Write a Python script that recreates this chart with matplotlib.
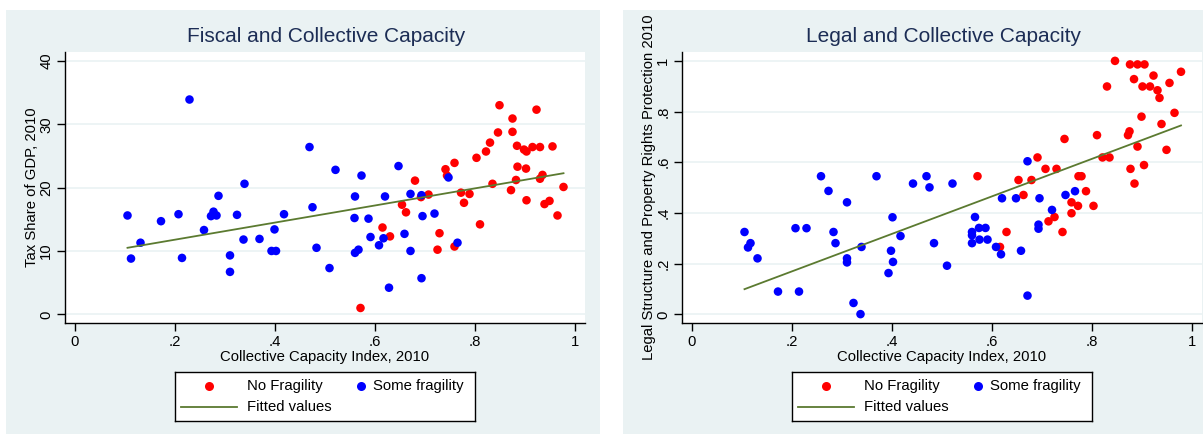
import numpy as np
import matplotlib
matplotlib.use("Agg")
import matplotlib.pyplot as plt
from matplotlib.patches import Rectangle
from matplotlib.lines import Line2D

plt.rcParams['font.family'] = ['Liberation Sans', 'DejaVu Sans']

# ---- data: collective capacity index vs tax share (left panel) ----
tax_blue_x = [0.105, 0.112, 0.131, 0.172, 0.207, 0.214, 0.229, 0.258, 0.277, 0.272,
              0.283, 0.287, 0.310, 0.310, 0.324, 0.337, 0.339, 0.369, 0.393, 0.402,
              0.399, 0.418, 0.469, 0.475, 0.483, 0.509, 0.521, 0.573, 0.560, 0.559,
              0.587, 0.560, 0.567, 0.591, 0.608, 0.617, 0.620, 0.628, 0.647, 0.659,
              0.671, 0.671, 0.693, 0.695, 0.693, 0.719, 0.747, 0.765]
tax_blue_y = [15.6, 8.8, 11.3, 14.7, 15.8, 8.9, 33.9, 13.3, 16.2, 15.5,
              15.6, 18.7, 9.3, 6.7, 15.7, 11.8, 20.6, 11.9, 10.0, 10.0,
              13.4, 15.8, 26.4, 16.9, 10.5, 7.3, 22.8, 21.9, 18.6, 15.2,
              15.1, 9.7, 10.2, 12.2, 10.9, 12.0, 18.6, 4.2, 23.4, 12.7,
              19.0, 10.0, 18.8, 15.5, 5.7, 15.9, 21.6, 11.3]
tax_red_x = [0.571, 0.615, 0.630, 0.654, 0.662, 0.680, 0.692, 0.707, 0.725, 0.729,
             0.741, 0.744, 0.759, 0.759, 0.772, 0.778, 0.789, 0.803, 0.810, 0.822,
             0.830, 0.835, 0.846, 0.849, 0.872, 0.875, 0.875, 0.884, 0.885, 0.882,
             0.898, 0.903, 0.902, 0.903, 0.915, 0.923, 0.930, 0.930, 0.935, 0.939,
             0.949, 0.955, 0.965, 0.977]
tax_red_y = [1.0, 13.7, 12.3, 17.3, 16.1, 21.1, 18.5, 18.9, 10.2, 12.8,
             22.9, 21.9, 23.9, 10.7, 19.2, 17.6, 19.0, 24.7, 14.2, 25.7,
             27.1, 20.6, 28.7, 33.0, 19.6, 30.9, 28.8, 26.6, 23.3, 21.2,
             26.0, 25.7, 23.0, 18.0, 26.4, 32.3, 26.4, 21.4, 22.0, 17.4,
             17.9, 26.5, 15.6, 20.1]

# ---- data: collective capacity index vs legal structure (right panel) ----
legal_blue_x = [0.105, 0.117, 0.112, 0.131, 0.172, 0.207, 0.214, 0.229, 0.258, 0.273,
                0.283, 0.287, 0.310, 0.310, 0.310, 0.323, 0.337, 0.339, 0.369, 0.393,
                0.398, 0.402, 0.401, 0.417, 0.442, 0.469, 0.475, 0.484, 0.510, 0.521,
                0.566, 0.560, 0.560, 0.560, 0.574, 0.587, 0.575, 0.591, 0.608, 0.618,
                0.620, 0.648, 0.658, 0.671, 0.671, 0.693, 0.693, 0.695, 0.720, 0.747,
                0.766]
legal_blue_y = [0.325, 0.281, 0.264, 0.221, 0.090, 0.340, 0.090, 0.340, 0.545, 0.487,
                0.325, 0.281, 0.442, 0.221, 0.205, 0.045, 0.001, 0.266, 0.545, 0.163,
                0.251, 0.207, 0.383, 0.309, 0.516, 0.545, 0.501, 0.281, 0.192, 0.516,
                0.384, 0.325, 0.312, 0.281, 0.341, 0.341, 0.295, 0.295, 0.266, 0.237,
                0.458, 0.458, 0.251, 0.604, 0.074, 0.354, 0.338, 0.458, 0.412, 0.471,
                0.486]
legal_red_x = [0.571, 0.616, 0.629, 0.653, 0.663, 0.679, 0.691, 0.707, 0.713, 0.725,
               0.729, 0.741, 0.745, 0.759, 0.759, 0.773, 0.779, 0.772, 0.788, 0.803,
               0.810, 0.821, 0.835, 0.830, 0.846, 0.872, 0.875, 0.877, 0.885, 0.891,
               0.876, 0.891, 0.905, 0.884, 0.899, 0.901, 0.916, 0.904, 0.923, 0.931,
               0.935, 0.939, 0.949, 0.955, 0.965, 0.978]
legal_red_y = [0.545, 0.266, 0.325, 0.530, 0.471, 0.530, 0.619, 0.574, 0.367, 0.384,
               0.574, 0.325, 0.692, 0.399, 0.442, 0.545, 0.545, 0.428, 0.486, 0.428,
               0.707, 0.619, 0.619, 0.899, 1.000, 0.707, 0.722, 0.574, 0.516, 0.662,
               0.986, 0.986, 0.986, 0.928, 0.780, 0.899, 0.899, 0.589, 0.942, 0.884,
               0.854, 0.751, 0.649, 0.913, 0.795, 0.957]

x_ticks = [0, 0.2, 0.4, 0.6, 0.8, 1.0]
x_ticklabels = ['0', '.2', '.4', '.6', '.8', '1']
tax_ticks = [0, 10, 20, 30, 40]
tax_ticklabels = ['0', '10', '20', '30', '40']
legal_ticks = [0, 0.2, 0.4, 0.6, 0.8, 1.0]
legal_ticklabels = ['0', '.2', '.4', '.6', '.8', '1']

W, H = 1203, 434
BG = '#eaf2f3'
TITLE_C = '#1c2d55'
FIT_C = '#5b7a30'
FS = 10.7

fig = plt.figure(figsize=(W / 100, H / 100), dpi=100)
fig.patch.set_facecolor('white')


def px_rect(x0, y0, x1, y1):
    # pixel box (top-left origin) -> figure fraction [l, b, w, h]
    return [x0 / W, 1 - y1 / H, (x1 - x0) / W, (y1 - y0) / H]


def panel(x_off, title, ylabel, bx, by, rx, ry, yticks, yticklabels, ylim):
    l, b, w, h = px_rect(x_off - 59, 10, x_off + 535, H)
    fig.patches.append(Rectangle((l, b), w, h, transform=fig.transFigure,
                                 facecolor=BG, edgecolor='none', zorder=-5))
    ax = fig.add_axes(px_rect(x_off, 52, x_off + 520, 323))
    ax.set_facecolor('white')
    for s in ['top', 'right']:
        ax.spines[s].set_visible(False)
    ax.spines['left'].set_linewidth(1.0)
    ax.spines['bottom'].set_linewidth(1.0)

    all_x = np.array(bx + rx)
    all_y = np.array(by + ry)
    slope, icpt = np.polyfit(all_x, all_y, 1)
    xf = np.array([all_x.min(), all_x.max()])

    ax.scatter(rx, ry, s=38, color='#ff0000', edgecolors='none', zorder=3)
    ax.scatter(bx, by, s=38, color='#0000ff', edgecolors='none', zorder=3)
    ax.plot(xf, icpt + slope * xf, color=FIT_C, lw=1.3, zorder=4)

    ax.set_xlim(-0.02, 1.02)
    ax.set_ylim(*ylim)
    ax.set_xticks(x_ticks)
    ax.set_xticklabels(x_ticklabels)
    ax.set_yticks(yticks)
    ax.set_yticklabels(yticklabels, rotation=90, va='center')
    ax.tick_params(direction='out', length=5.5, width=1, labelsize=FS, pad=3)
    ax.grid(axis='y', color=BG, lw=1.2, zorder=0)
    ax.set_axisbelow(True)
    ax.set_xlabel('Collective Capacity Index, 2010', fontsize=FS, labelpad=1)
    ax.set_ylabel(ylabel, fontsize=FS, labelpad=0)
    fig.text((x_off + 261) / W, 1 - 36 / H, title, fontsize=15, color=TITLE_C,
             ha='center', va='center')

    # legend box
    lx, ly = x_off + 110, 372
    lax = fig.add_axes(px_rect(lx, ly, lx + 300, ly + 49))
    lax.set_xlim(0, 300)
    lax.set_ylim(49, 0)
    lax.set_xticks([])
    lax.set_yticks([])
    for s in lax.spines.values():
        s.set_linewidth(1.0)
    lax.add_line(Line2D([34], [14], marker='o', ms=6.5, color='#ff0000', mec='none', ls=''))
    lax.add_line(Line2D([186], [14], marker='o', ms=6.5, color='#0000ff', mec='none', ls=''))
    lax.add_line(Line2D([6, 62], [35, 35], color=FIT_C, lw=1.3))
    lax.text(72, 14, 'No Fragility', fontsize=FS, va='center')
    lax.text(198, 14, 'Some fragility', fontsize=FS, va='center')
    lax.text(72, 35, 'Fitted values', fontsize=FS, va='center')
    return ax


panel(65, 'Fiscal and Collective Capacity', 'Tax Share of GDP, 2010',
      tax_blue_x, tax_blue_y, tax_red_x, tax_red_y,
      tax_ticks, tax_ticklabels, (-1.37, 41.4))
panel(682, 'Legal and Collective Capacity', 'Legal Structure and Property Rights Protection 2010',
      legal_blue_x, legal_blue_y, legal_red_x, legal_red_y,
      legal_ticks, legal_ticklabels, (-0.034, 1.035))

fig.savefig('out.png', dpi=100, facecolor='white')
